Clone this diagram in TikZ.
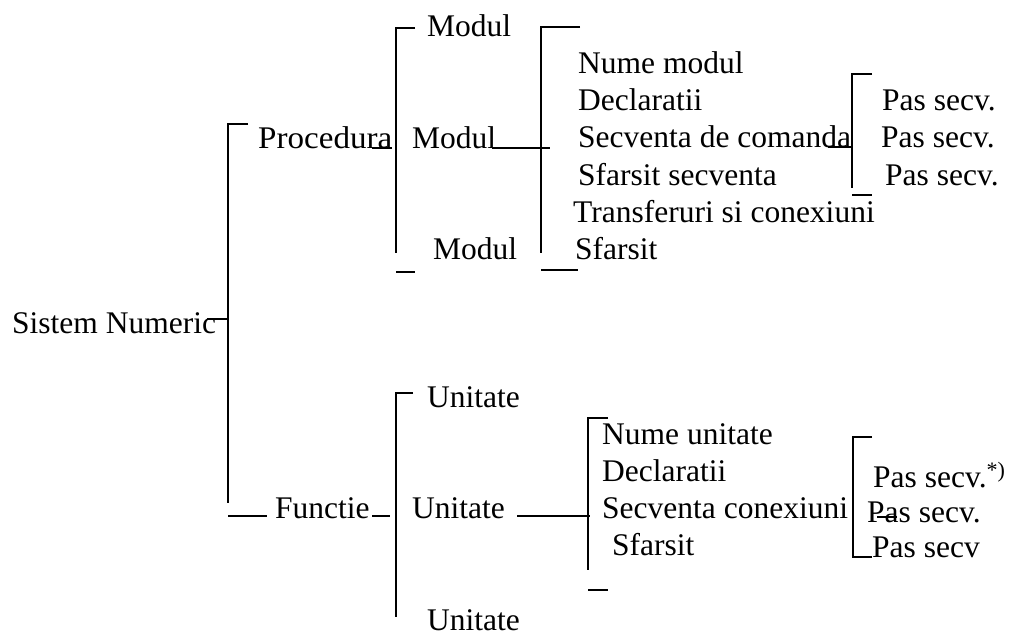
\documentclass[tikz,border=0pt]{standalone}
\usepackage{fontspec}
\setmainfont{Liberation Serif}
\begin{document}
\begin{tikzpicture}[x=1pt,y=-1pt,
  lbl/.style={anchor=base west,inner sep=0pt,font=\fontsize{31.5}{37}\selectfont},
  rule/.style={line width=1.4pt,line cap=butt}]
\useasboundingbox (0,0) rectangle (1011,638);

% ---------- labels ----------
\node[lbl] (sn)    at (12,333)  {Sistem Numeric};
\node[lbl] (proc)  at (258,148) {\scalebox{1.05}[1]{Procedura}};
\node[lbl] (modA)  at (427,36)  {Modul};
\node[lbl] (modB)  at (412,148) {Modul};
\node[lbl] (modC)  at (433,259) {Modul};
\node[lbl] (nm)    at (578,73)  {Nume modul};
\node[lbl] (decA)  at (578,110) {Declaratii};
\node[lbl] (sdc)   at (578,147) {Secventa de comanda};
\node[lbl] (sfs)   at (578,185) {Sfarsit secventa};
\node[lbl] (tsc)   at (573,222) {Transferuri si conexiuni};
\node[lbl] (sfA)   at (575,259) {Sfarsit};
\node[lbl] (psA)   at (882,110) {Pas secv.};
\node[lbl] (psB)   at (881,147) {Pas secv.};
\node[lbl] (psC)   at (885,185) {Pas secv.};

\node[lbl] (fct)   at (275,518) {Functie};
\node[lbl] (unA)   at (427,407) {Unitate};
\node[lbl] (unB)   at (412,518) {Unitate};
\node[lbl] (unC)   at (427,630) {Unitate};
\node[lbl] (nu)    at (602,444) {Nume unitate};
\node[lbl] (decB)  at (602,481) {Declaratii};
\node[lbl] (sc)    at (602,518) {Secventa conexiuni};
\node[lbl] (sfB)   at (612,555) {Sfarsit};
\node[lbl] (psD)   at (873,487) {Pas secv.\textsuperscript{*)}};
\node[lbl] (psE)   at (867,522) {Pas secv.};
\node[lbl] (psF)   at (872,557) {Pas secv};

% ---------- bracket corners ----------
\coordinate (r0t) at (228,124);
\coordinate (r0m) at (228,319);
\coordinate (r0b) at (228,503);
\coordinate (p1t) at (396,28);
\coordinate (p1b) at (396,253);
\coordinate (p2t) at (541,27);
\coordinate (p2b) at (541,253);
\coordinate (p2m) at (550,148);
\coordinate (p3t) at (852,74);
\coordinate (p3b) at (852,188);
\coordinate (p3m) at (852,147);
\coordinate (f1t) at (396,393);
\coordinate (f1b) at (396,617);
\coordinate (f1m) at (390,516);
\coordinate (f2t) at (588,418);
\coordinate (f2b) at (588,570);
\coordinate (f2m) at (590,516);
\coordinate (f3t) at (853,437);
\coordinate (f3b) at (853,557);

% ---------- root bracket ----------
\draw[rule] (248,124) -- (r0t) -- (r0b);
\draw[rule] (207,319) -- (r0m);
\draw[rule] (r0b |- 0,516) -- (267,516);

% ---------- Procedura branch ----------
\draw[rule] (372,148) -- (392,148);
\draw[rule] (415,28) -- (p1t) -- (p1b);
\draw[rule] (p1b |- 0,272) -- (415,272);
\draw[rule] (492,148) -- (p2m);
\draw[rule] (580,27) -- (p2t) -- (p2b);
\draw[rule] (p2b |- 0,270) -- (578,270);
\draw[rule] (828,147) -- (p3m);
\draw[rule] (872,74) -- (p3t) -- (p3b);
\draw[rule] (p3b |- 0,195) -- (872,195);

% ---------- Functie branch ----------
\draw[rule] (372,516) -- (f1m);
\draw[rule] (413,393) -- (f1t) -- (f1b);
\draw[rule] (517,516) -- (f2m);
\draw[rule] (608,418) -- (f2t) -- (f2b);
\draw[rule] (f2b |- 0,590) -- (608,590);
\draw[rule] (872,437) -- (f3t) -- (f3b) -- (872,557);
\draw[rule] (877,517) -- (897,517);
\end{tikzpicture}
\end{document}
